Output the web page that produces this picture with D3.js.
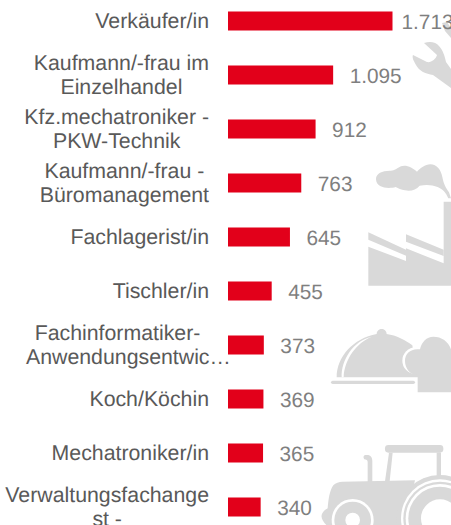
<!DOCTYPE html>
<html><head><meta charset="utf-8">
<script src="https://cdn.jsdelivr.net/npm/d3@7"></script>
<style>html,body{margin:0;padding:0;background:#fff;overflow:hidden}svg{display:block}text{font-family:"Liberation Sans",Arial,sans-serif;text-rendering:geometricPrecision}</style>
</head><body><svg id="c" width="451" height="525"></svg>
<script>
const categories=[
 ["Verkäufer/in"],
 ["Kaufmann/-frau im","Einzelhandel"],
 ["Kfz.mechatroniker -","PKW-Technik"],
 ["Kaufmann/-frau -","Büromanagement"],
 ["Fachlagerist/in"],
 ["Tischler/in"],
 ["Fachinformatiker-","Anwendungsentwic…"],
 ["Koch/Köchin"],
 ["Mechatroniker/in"],
 ["Verwaltungsfachange","st -"]
];
const values=[1713,1095,912,763,645,455,373,369,365,340];
const valueLabels=["1.713","1.095","912","763","645","455","373","369","365","340"];

const svg=d3.select("#c");
const grey="#d9d9d9";
const icons=svg.append("g").attr("fill",grey).attr("stroke","none");
const circle=(g,cx,cy,r,f)=>g.append("circle").attr("cx",cx).attr("cy",cy).attr("r",r).attr("fill",f);

// tools (wrench)
icons.append("path").attr("d","M442 23L447 22L451 28V38L445 31Z");
icons.append("path").attr("d","M424 43C430 41 436 42 439 46C443 50 445 57 446 62L451 69V88L433 75C426 74 419 71 416 65C413 60 412 57 413 55L427 62C431 63 436 59 437 55Z");

// factory
const fac=icons.append("g").attr("transform","translate(361,155) scale(.3333)");
fac.append("path").attr("d","M22 232L135 284V302L22 254Z");
fac.append("path").attr("d","M135 238L248 284V303L135 260Z");
fac.append("path").attr("d","M22 275L135 318V280L248 325V140H270V392H22Z");
fac.append("path").attr("d","M45 72C45 54 66 46 90 47C100 47 108 40 120 34C135 28 155 38 168 50C178 40 192 28 208 28C228 28 240 45 244 66C248 88 256 100 264 112L270 130H262C254 112 246 103 230 96C214 90 198 88 176 92C165 104 150 110 132 106C120 104 112 100 104 96C84 102 45 100 45 72Z");

// cloche and chef hat
const clo=icons.append("g").attr("transform","translate(325,320) scale(.3333)");
clo.append("path").attr("d","M35 172C35 110 85 55 155 42C156 22 184 22 185 42C215 46 240 60 262 76L280 172Z");
clo.append("path").attr("fill","#fff").attr("d","M50 172C48 120 85 62 140 50C95 68 58 118 56 172Z");
circle(clo,272,122,40,"#fff");
clo.append("rect").attr("x",18).attr("y",182).attr("width",252).attr("height",10).attr("rx",5);
clo.append("path").attr("d","M278 217V165C256 165 240 146 240 122C240 100 258 84 285 88C290 66 305 50 325 50C350 50 370 64 378 88V217Z");

// tractor
const tr=icons.append("g").attr("transform","translate(315,440) scale(.3333)");
tr.append("rect").attr("x",210).attr("y",15).attr("width",175).attr("height",23).attr("rx",10);
tr.append("path").attr("d","M222 38H233L224 124H210Z");
tr.append("path").attr("d","M365 38H378V110H365Z");
tr.append("path").attr("d","M150 45H160C168 47 172 54 172 62V128H158V66C158 60 154 59 148 58C144 53 145 47 150 45Z");
tr.append("path").attr("d","M82 125L300 121L270 255H34C24 245 15 232 22 220C26 212 34 208 38 205C40 180 44 150 55 136C62 128 72 126 82 125Z");
circle(tr,375,235,130,grey);
circle(tr,375,235,117,"#fff");
circle(tr,375,235,110,grey);
circle(tr,375,235,103,"#fff");
circle(tr,375,235,95,grey);
circle(tr,375,235,57,"#fff");
circle(tr,113,240,63,"#fff");
circle(tr,113,240,55,grey);
circle(tr,113,240,22,"#fff");

const x=d3.scaleLinear().domain([0,1713]).range([228,392.5]);
const y=d3.scaleBand().domain(d3.range(values.length)).range([-6,534]).paddingInner(0.648).paddingOuter(0.324);
const mid=i=>y(i)+y.bandwidth()/2;

svg.append("g").selectAll("rect").data(values).join("rect")
 .attr("x",x(0)).attr("y",(d,i)=>y(i)).attr("width",d=>x(d)-x(0)).attr("height",y.bandwidth()).attr("fill","#e2001a");

svg.append("g").selectAll("text").data(valueLabels).join("text")
 .attr("x",(d,i)=>x(values[i])+(i===0?9:16.5)).attr("y",(d,i)=>mid(i)+7.5)
 .attr("font-size",20.8).attr("fill","#7f7f7f").text(d=>d);

const lineH=24;
const lab=svg.append("g").attr("fill","#595959").attr("font-size",21.3);
categories.forEach((lines,i)=>{
  const g=lab.append("g");
  const truncated=lines.some(t=>t.includes("…"));
  const ts=lines.map((t,k)=>g.append("text").attr("y",mid(i)+6.5+(k-(lines.length-1)/2)*lineH).text(t));
  const w=Math.max(...ts.map(t=>t.node().getComputedTextLength()));
  const boxW=truncated?183:Math.min(w,204);
  ts.forEach((t,k)=>{
    if(lines[k].includes("…")) t.attr("text-anchor","start").attr("x",209-boxW);
    else t.attr("text-anchor","middle").attr("x",209-boxW/2);
  });
});
</script></body></html>
